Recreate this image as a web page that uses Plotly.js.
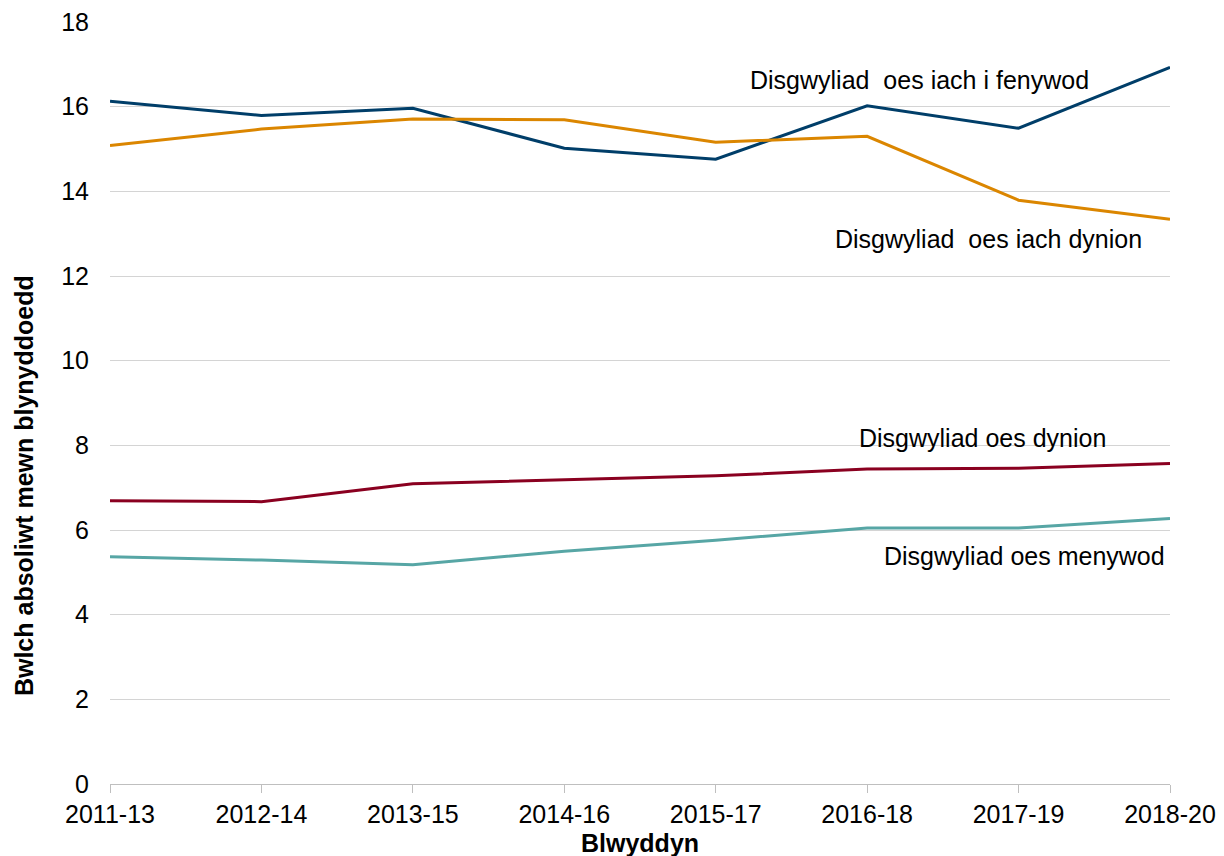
<!DOCTYPE html>
<html>
<head>
<meta charset="utf-8">
<script src="https://cdn.plot.ly/plotly-3.0.1.min.js"></script>
<style>html,body{margin:0;padding:0;background:#fff;}#chart{width:1224px;height:856px;}</style>
</head>
<body>
<div id="chart"></div>
<script>
const years = ["2011-13","2012-14","2013-15","2014-16","2015-17","2016-18","2017-19","2018-20"];
const hleFemale = [16.13, 15.79, 15.96, 15.02, 14.76, 16.02, 15.49, 16.93];
const hleMale   = [15.08, 15.47, 15.71, 15.69, 15.16, 15.30, 13.79, 13.34];
const leMale    = [6.69, 6.67, 7.09, 7.18, 7.28, 7.44, 7.46, 7.57];
const leFemale  = [5.37, 5.29, 5.18, 5.50, 5.76, 6.05, 6.05, 6.27];
const seriesNames = ["Disgwyliad\u00a0 oes iach i fenywod","Disgwyliad\u00a0 oes iach dynion","Disgwyliad oes dynion","Disgwyliad oes menywod"];
const yTicks = [0,2,4,6,8,10,12,14,16,18];
const yTitle = "Bwlch absoliwt mewn blynyddoedd";
const xTitle = "Blwyddyn";

const FONT = "Liberation Sans, Arial, sans-serif";
const FS = 25;
const colors = ["#003E69","#DB8600","#8A0020","#57A6A5"];
const data = [hleFemale, hleMale, leMale, leFemale].map((v,i)=>({
  type:"scatter", mode:"lines", x:years, y:v, name:seriesNames[i],
  line:{color:colors[i], width:3}, hoverinfo:"skip"
}));

const labelPos = [
  {x:5.349, y:16.63},
  {x:5.803, y:12.87},
  {x:5.765, y:8.17},
  {x:6.036, y:5.39}
];
const annotations = seriesNames.map((t,i)=>({
  text:t, xref:"x", yref:"y", x:labelPos[i].x, y:labelPos[i].y,
  showarrow:false, xanchor:"center", yanchor:"middle",
  font:{family:FONT, size:FS, color:"#000"}
}));
annotations.push({
  text:"<b>"+yTitle+"</b>", xref:"paper", yref:"paper", x:-0.0811, y:0.391,
  textangle:-90, showarrow:false, xanchor:"center", yanchor:"middle",
  font:{family:FONT, size:FS, color:"#000"}
});
annotations.push({
  text:"<b>"+xTitle+"</b>", xref:"paper", yref:"paper", x:0.5, y:-0.0774,
  showarrow:false, xanchor:"center", yanchor:"middle",
  font:{family:FONT, size:FS, color:"#000"}
});

const layout = {
  width:1224, height:856,
  margin:{l:110, r:54, t:22, b:72, pad:0},
  paper_bgcolor:"#fff", plot_bgcolor:"#fff",
  showlegend:false,
  font:{family:FONT, size:FS, color:"#000"},
  xaxis:{
    type:"category", range:[0,7], showgrid:false, zeroline:false,
    showline:true, linecolor:"#bfbfbf", linewidth:1,
    ticks:"outside", ticklen:8, tickcolor:"#bfbfbf", tickwidth:1,
    tickfont:{family:FONT, size:FS, color:"#000"},
    fixedrange:true
  },
  yaxis:{
    range:[0,18], tickvals:yTicks, ticktext:yTicks.map(String),
    showgrid:true, gridcolor:"#d4d4d4", gridwidth:1, zeroline:false,
    showline:false, ticks:"", ticklabelstandoff:20,
    tickfont:{family:FONT, size:FS, color:"#000"},
    fixedrange:true
  },
  annotations:annotations
};
Plotly.newPlot("chart", data, layout, {displayModeBar:false, staticPlot:true});
</script>
</body>
</html>
